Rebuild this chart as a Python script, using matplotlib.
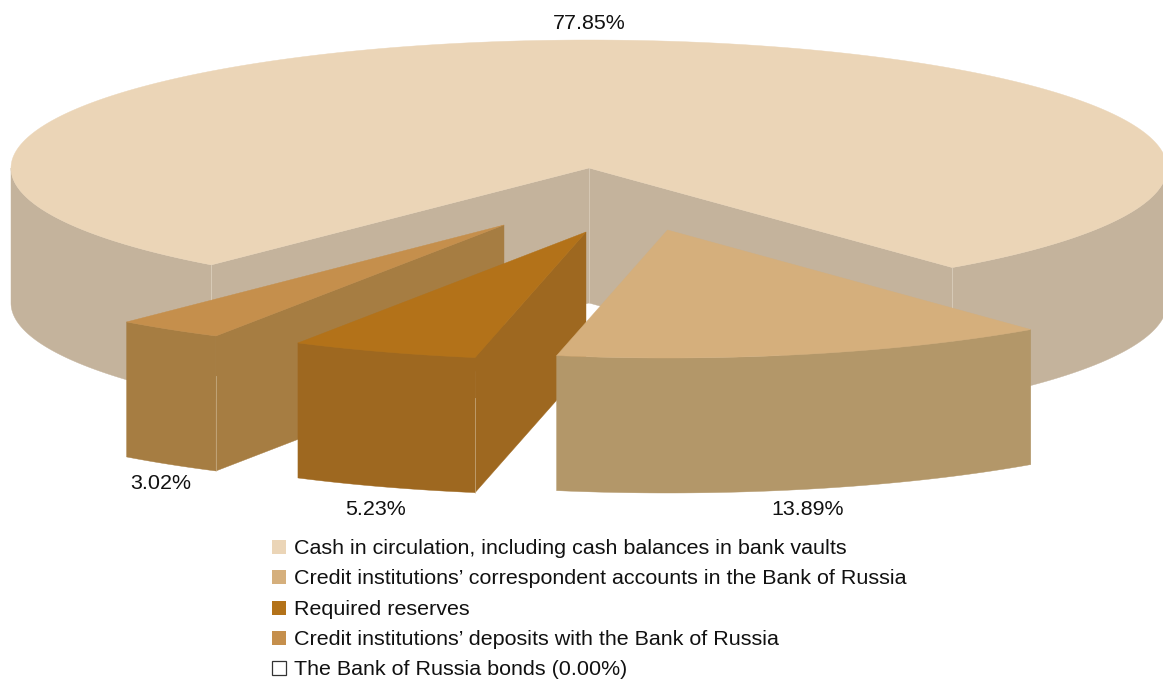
#/usr/bin/env python3

import numpy as np
import matplotlib.pyplot as plt
from matplotlib.patches import Polygon, Rectangle

plt.rcParams['font.family'] = ['Liberation Sans', 'DejaVu Sans']

# DATA
labels = [
    'Cash in circulation, including cash balances in bank vaults',
    'Credit institutions\u2019 correspondent accounts in the Bank of Russia',
    'Required reserves',
    'Credit institutions\u2019 deposits with the Bank of Russia',
    'The Bank of Russia bonds (0.00%)',
]
shares = [77.85, 13.89, 5.23, 3.02, 0.00]

top_colors = ['#EBD5B7', '#D5AF7C', '#B37219', '#C58F4C', '#FFFFFF']
side_colors = ['#C4B39C', '#B39769', '#9E6820', '#A67D42', '#FFFFFF']

# Pie geometry in pixels
CENTER = (589, 168)
RX, RY = 578, 128
DEPTH = 135
START_ANGLE = 229.2
EXPLODE = [(0, 0), (78.5, 62), (-3, 64), (-85, 57), (0, 0)]
PCT_POS = [(589, 22), (808, 508), (376, 508), (161, 482)]
LEGEND_Y = [547, 577, 608, 638, 668]


def arc(cx, cy, a0, a1, n=120):
    """Points on the top ellipse between two angles in degrees"""
    t = np.radians(np.linspace(a0, a1, n))
    return np.column_stack([cx + RX * np.cos(t), cy + RY * np.sin(-t)])


def drop(pts):
    """Same points moved down to the bottom of the pie"""
    return pts + np.array([0, DEPTH])


def add_poly(ax, pts, color, z):
    # thin edge of the same colour hides antialiasing gaps between faces
    ax.add_patch(Polygon(pts, closed=True, facecolor=color, edgecolor=color, lw=0.3, zorder=z))


def side_wall(ax, p, q, color, z):
    add_poly(ax, np.array([p, q, (q[0], q[1] + DEPTH), (p[0], p[1] + DEPTH)]), color, z)


def seam(ax, x, y0, y1, color, z):
    ax.plot([x, x], [y0, y1], color=color, lw=0.6, alpha=0.6, zorder=z)


def visualize():
    fig = plt.figure(figsize=(11.63, 6.80), dpi=100)
    ax = fig.add_axes([0, 0, 1, 1])
    ax.set_xlim(0, 1163)
    ax.set_ylim(680, 0)
    ax.axis('off')

    # Clockwise sweep: each share takes its part of the circle
    sweeps = np.array(shares) * 3.6
    ends = START_ANGLE - np.cumsum(sweeps)
    starts = ends + sweeps

    # Main slice stays in place, its rim only shows on the lower half
    a0, a1 = starts[0], ends[0]
    cx, cy = CENTER
    for r0, r1 in [(180, a0), (a1, 0)]:
        rim = arc(cx, cy, r0, r1)
        add_poly(ax, np.vstack([rim, drop(rim)[::-1]]), side_colors[0], 1)
    left = arc(cx, cy, a0, a0, 1)[0]
    right = arc(cx, cy, a1, a1, 1)[0]
    side_wall(ax, CENTER, left, side_colors[0], 2)
    side_wall(ax, CENTER, right, side_colors[0], 2)
    add_poly(ax, np.vstack([[CENTER], arc(cx, cy, a0, a1, 300)]), top_colors[0], 3)
    for x, y in [left, right, CENTER]:
        seam(ax, x, y, y + DEPTH, '#E6DCCB', 2.5)

    # Exploded slices, back to front
    for i in [3, 2, 1]:
        z = 10 + (3 - i) * 3
        ox, oy = EXPLODE[i]
        sx, sy = cx + ox, cy + oy
        edge = arc(sx, sy, starts[i], ends[i], 60)
        if i != 1:
            side_wall(ax, (sx, sy), edge[0], side_colors[i], z)
        add_poly(ax, np.vstack([edge, drop(edge)[::-1]]), side_colors[i], z + 1)
        add_poly(ax, np.vstack([[(sx, sy)], edge]), top_colors[i], z + 2)
        if i != 1:
            seam(ax, edge[0][0], edge[0][1] + 0.3 * DEPTH, edge[0][1] + DEPTH, '#D9C7A8', z + 1.5)

    # Percentage labels
    for share, (x, y) in zip(shares, PCT_POS):
        ax.text(x, y + 1.5, f'{share:.2f}%', ha='center', va='center', fontsize=15.45,
                color='#111111', zorder=30)

    # Legend
    for label, color, y in zip(labels, top_colors, LEGEND_Y):
        empty = color == '#FFFFFF'
        ax.add_patch(Rectangle((272, y - 7), 14, 14, facecolor=color,
                               edgecolor='#333333' if empty else color, lw=0.9 if empty else 0, zorder=30))
        ax.text(294, y + 1.5, label, ha='left', va='center', fontsize=15.45, color='#111111', zorder=30)

    fig.savefig('out.png', dpi=100)


if __name__ == "__main__":
    visualize()
